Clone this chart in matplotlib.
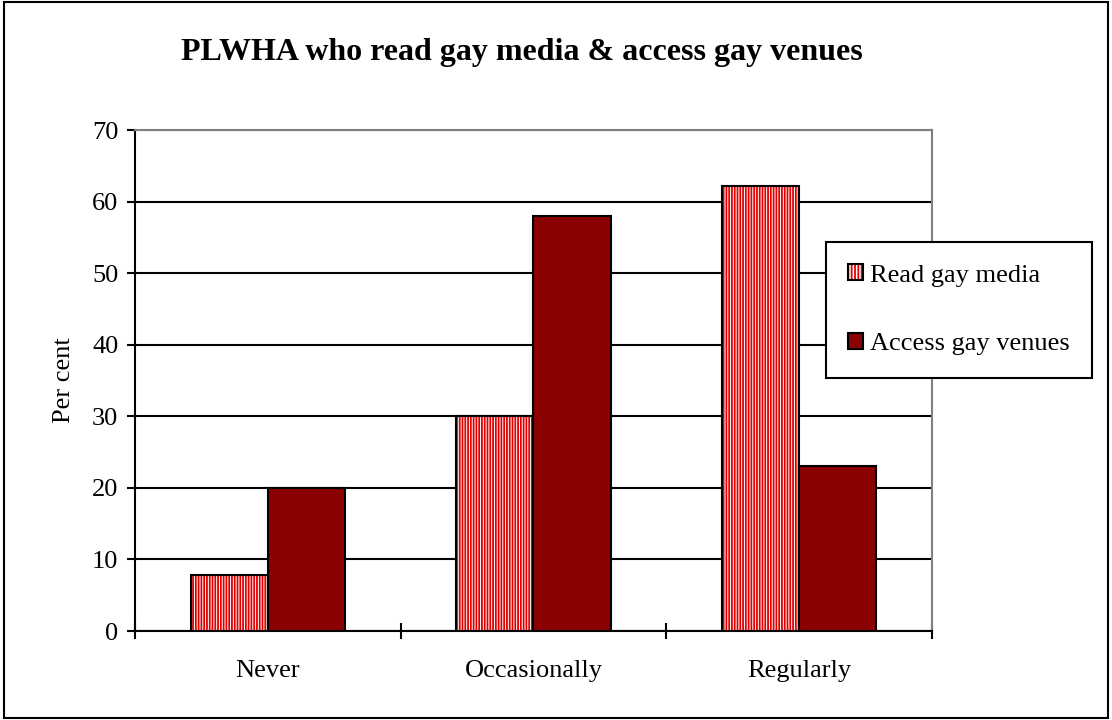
import matplotlib.pyplot as plt
import numpy as np
from matplotlib.patches import Rectangle

plt.rcParams['font.family'] = ['Liberation Serif', 'DejaVu Serif']
plt.rcParams['hatch.linewidth'] = 1.3

categories = ['Never', 'Occasionally', 'Regularly']
read_media = [7.8, 30, 62.2]
access_venues = [20, 58, 23]
series_labels = ['Read gay media', 'Access gay venues']

fig = plt.figure(figsize=(11.12, 7.2), dpi=100)
ax = fig.add_axes([0.1214, 0.1236, 0.7167, 0.6958])

x = np.arange(len(categories))
w = 0.29

# hatched fill first, black outline drawn over it
ax.bar(x - w / 2, read_media, w, color='white', edgecolor='#e00000',
       hatch='||||||', linewidth=0, zorder=3)
ax.bar(x - w / 2, read_media, w, fill=False, edgecolor='black',
       linewidth=1.5, zorder=4)
ax.bar(x + w / 2, access_venues, w, color='#8b0000', edgecolor='black',
       linewidth=1.5, zorder=4)

ax.set_xlim(-0.5, 2.5)
ax.set_ylim(0, 70)
ax.set_yticks(range(0, 71, 10))
ax.set_xticks(x)
ax.set_xticklabels(categories)
ax.set_xticks([-0.5, 0.5, 1.5, 2.5], minor=True)
ax.tick_params(axis='x', which='major', length=0, labelsize=19, pad=21)
ax.tick_params(axis='x', which='minor', direction='inout', length=12,
               width=1.5, color='black')
ax.tick_params(axis='y', direction='out', length=6, width=1.5,
               labelsize=19, pad=6)
ax.grid(axis='y', color='black', linewidth=1.5, zorder=1)
ax.set_axisbelow(True)

for side in ['left', 'bottom']:
    ax.spines[side].set_color('black')
    ax.spines[side].set_linewidth(1.5)
for side in ['top', 'right']:
    ax.spines[side].set_color('#808080')
    ax.spines[side].set_linewidth(1.5)

ax.set_ylabel('Per cent', fontsize=19, labelpad=12)
fig.text(0.469, 0.927, 'PLWHA who read gay media & access gay venues',
         fontsize=23, fontweight='bold', ha='center', va='center')

# legend handles: hatch + outline overlaid
h_read = (Rectangle((0, 0), 1, 1, facecolor='white', edgecolor='#e00000',
                    hatch='|||||', linewidth=0),
          Rectangle((0, 0), 1, 1, fill=False, edgecolor='black', linewidth=1.5))
h_access = Rectangle((0, 0), 1, 1, facecolor='#8b0000', edgecolor='black',
                     linewidth=1.5)
leg = fig.legend([h_read, h_access], series_labels, loc='upper left',
                 bbox_to_anchor=(0.7428, 0.6639), borderaxespad=0,
                 fontsize=19, fancybox=False, framealpha=1, edgecolor='black',
                 handlelength=0.55, handleheight=0.55, handletextpad=0.25,
                 labelspacing=1.75, borderpad=0.85)
leg.get_frame().set_linewidth(1.5)

# outer frame around the whole chart
fig.patches.append(Rectangle((0.004, 0.003), 0.992, 0.994, fill=False,
                             edgecolor='black', linewidth=1.5,
                             transform=fig.transFigure, figure=fig))

fig.savefig('out.png', dpi=100)
